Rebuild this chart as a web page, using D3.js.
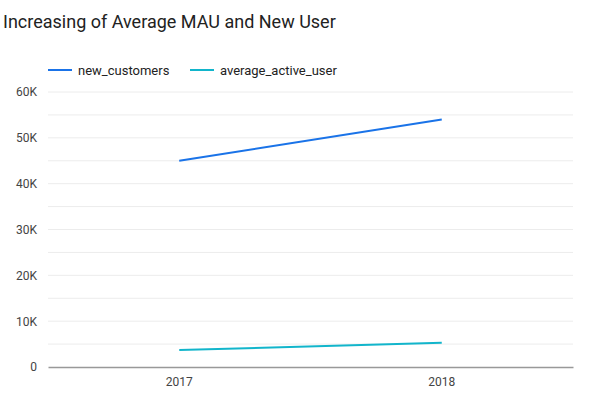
<!DOCTYPE html>
<html>
<head>
<meta charset="utf-8">
<script src="https://cdn.jsdelivr.net/npm/d3@7"></script>
<style>
  body { margin: 0; background: #fff; font-family: Roboto, sans-serif; }
  .axis text { font-family: Roboto, sans-serif; font-size: 12px; fill: #444; }
</style>
</head>
<body>
<div id="chart"></div>
<script>
var years = ["2017", "2018"];
var newCustomers = [45000, 54000];
var averageActiveUser = [3700, 5300];
var seriesNames = ["new_customers", "average_active_user"];
var seriesColors = ["#1a73e8", "#12b5cb"];
var yTicks = [0, 10000, 20000, 30000, 40000, 50000, 60000];

var W = 609, H = 403;
var margin = { top: 92, right: 36, bottom: 36, left: 48 };
var width = W - margin.left - margin.right;
var height = H - margin.top - margin.bottom;

var svg = d3.select("#chart").append("svg")
    .attr("width", W)
    .attr("height", H);

svg.append("text")
    .attr("x", 3)
    .attr("y", 28)
    .style("font-family", "Roboto, sans-serif")
    .style("font-size", "18px")
    .style("fill", "#222")
    .text("Increasing of Average MAU and New User");

// legend
var legendX = [48, 190];
var legend = svg.selectAll(".legend")
    .data(seriesNames)
  .enter().append("g")
    .attr("transform", function(d, i) { return "translate(" + legendX[i] + ",70)"; });
legend.append("line")
    .attr("x1", 0).attr("x2", 24)
    .attr("stroke", function(d, i) { return seriesColors[i]; })
    .attr("stroke-width", 2);
legend.append("text")
    .attr("x", 30)
    .attr("dy", "0.35em")
    .style("font-family", "Roboto, sans-serif")
    .style("font-size", "13px")
    .style("fill", "#222")
    .text(function(d) { return d; });

var g = svg.append("g")
    .attr("transform", "translate(" + margin.left + "," + margin.top + ")");

var x = d3.scaleBand().domain(years).range([0, width]);
var y = d3.scaleLinear().domain([0, 60000]).range([height, 0]);

// gridlines every 5K
g.selectAll(".grid")
    .data(d3.range(5000, 60001, 5000))
  .enter().append("line")
    .attr("x1", 0).attr("x2", width)
    .attr("y1", function(d) { return y(d); })
    .attr("y2", function(d) { return y(d); })
    .attr("stroke", "#ececec")
    .attr("stroke-width", 1);

var yAxis = g.append("g")
    .attr("class", "axis")
    .call(d3.axisLeft(y).tickValues(yTicks)
      .tickFormat(function(d) { return d === 0 ? "0" : (d / 1000) + "K"; })
      .tickSize(0).tickPadding(11));
yAxis.select(".domain").remove();

var xAxis = g.append("g")
    .attr("class", "axis")
    .attr("transform", "translate(0," + height + ")")
    .call(d3.axisBottom(x).tickSize(0).tickPadding(10));
xAxis.select(".domain").attr("stroke", "#999").attr("stroke-width", 1.5);

var line = d3.line()
    .x(function(d, i) { return x(years[i]) + x.bandwidth() / 2; })
    .y(function(d) { return y(d); });

[newCustomers, averageActiveUser].forEach(function(vals, i) {
  g.append("path")
      .datum(vals)
      .attr("fill", "none")
      .attr("stroke", seriesColors[i])
      .attr("stroke-width", 2)
      .attr("d", line);
});
</script>
</body>
</html>
